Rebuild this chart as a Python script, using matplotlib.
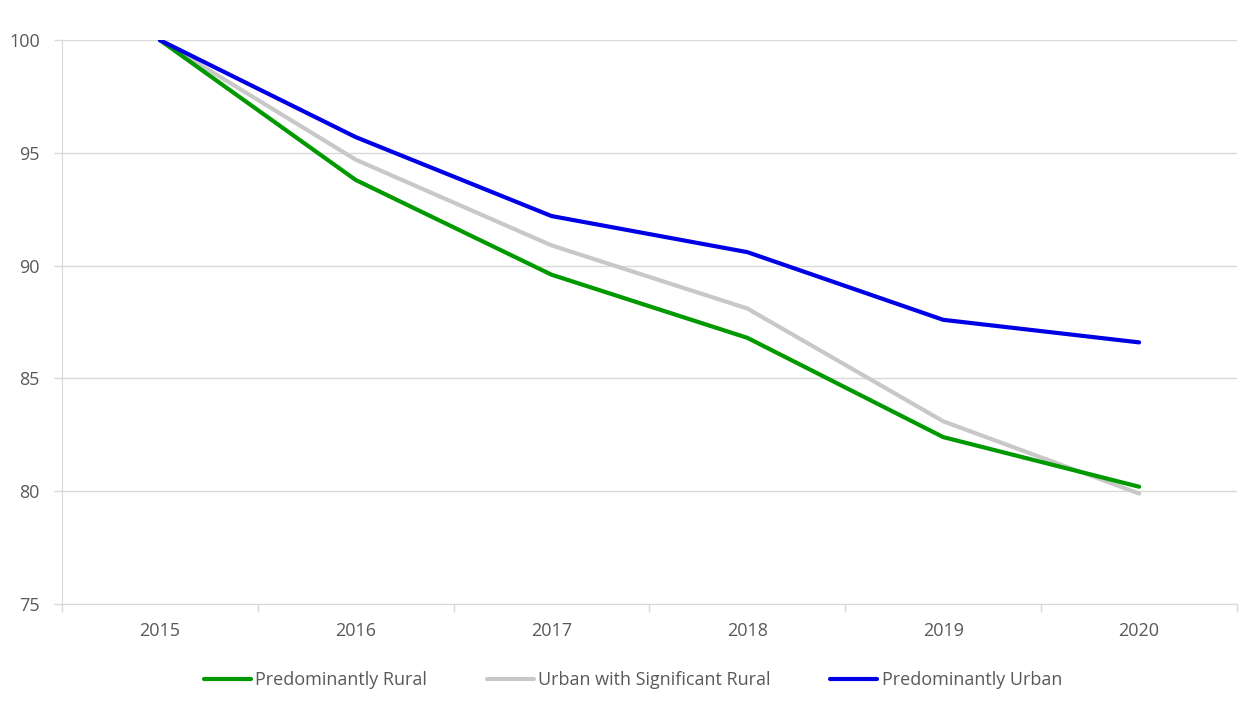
import matplotlib.pyplot as plt
import numpy as np

years = ["2015", "2016", "2017", "2018", "2019", "2020"]
rural = [100, 93.8, 89.6, 86.8, 82.4, 80.2]
urban_sig_rural = [100, 94.7, 90.9, 88.1, 83.1, 79.9]
urban = [100, 95.7, 92.2, 90.6, 87.6, 86.6]

plt.rcParams['font.family'] = ['Open Sans', 'DejaVu Sans']

fig = plt.figure(figsize=(12.47, 7.04), dpi=100)
ax = fig.add_axes([0.0497, 0.142, 0.9423, 0.801])

x = np.arange(len(years))
ax.plot(x, rural, color='#009900', lw=3, solid_capstyle='round', label='Predominantly Rural', zorder=3)
ax.plot(x, urban_sig_rural, color='#c8c8c8', lw=3, solid_capstyle='round', label='Urban with Significant Rural', zorder=2)
ax.plot(x, urban, color='#0000e6', lw=3, solid_capstyle='round', label='Predominantly Urban', zorder=4)

ax.set_xlim(-0.5, len(years) - 0.5)
ax.set_ylim(75, 100)
ax.set_yticks([75, 80, 85, 90, 95, 100])
ax.set_xticks(x)
ax.set_xticklabels(years)
# tick marks between categories
ax.set_xticks(np.arange(-0.5, len(years), 1), minor=True)
ax.tick_params(axis='x', which='major', length=0, pad=13, labelsize=13, labelcolor='#595959')
ax.tick_params(axis='x', which='minor', length=6, color='#d9d9d9', width=1)
ax.tick_params(axis='y', length=6, color='#d9d9d9', width=1, pad=10, labelsize=13, labelcolor='#595959')

ax.grid(axis='y', color='#d9d9d9', lw=1)
ax.set_axisbelow(True)
for s in ['top', 'right']:
    ax.spines[s].set_visible(False)
for s in ['left', 'bottom']:
    ax.spines[s].set_color('#d9d9d9')

leg = ax.legend(loc='upper center', bbox_to_anchor=(0.486, -0.09), ncol=3, frameon=False,
                fontsize=13, handlelength=2.6, handletextpad=0.25, columnspacing=3.3)
for t in leg.get_texts():
    t.set_color('#595959')

fig.savefig('out.png', dpi=100)
